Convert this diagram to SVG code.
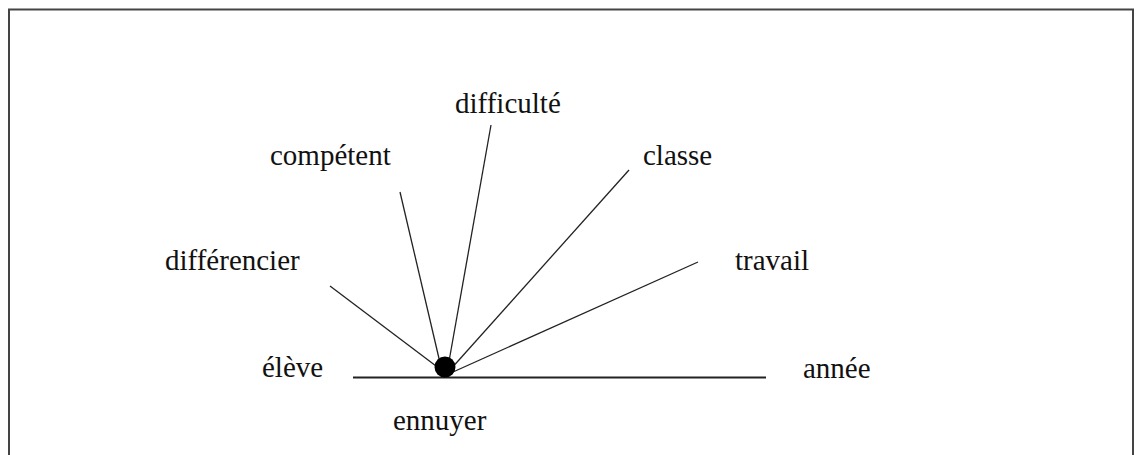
<svg xmlns="http://www.w3.org/2000/svg" width="1136" height="455" viewBox="0 0 1136 455">
<style>
.t{font-family:"Liberation Serif","Times New Roman",serif;font-size:29px;fill:#111}
.c{stroke:#222;stroke-width:1.3;fill:none}
</style>
<rect x="0" y="0" width="1136" height="455" fill="#fff"/>
<rect x="9" y="9.5" width="1124" height="460" fill="none" stroke="#444" stroke-width="2"/>
<g id="connectors">
<line class="c" x1="353" y1="377.5" x2="766" y2="377.5" style="stroke-width:1.8"/>
<line class="c" x1="330" y1="286" x2="440" y2="369"/>
<line class="c" x1="400" y1="192" x2="441" y2="367"/>
<line class="c" x1="491" y1="125" x2="448" y2="367"/>
<line class="c" x1="629" y1="170" x2="450" y2="370"/>
<line class="c" x1="698" y1="262" x2="453" y2="372"/>
</g>
<g id="ennuyer-dot"><circle cx="445" cy="367" r="10.5" fill="#000"/></g>
<g id="n-difficulte"><text class="t" x="455" y="113">difficulté</text></g>
<g id="n-competent"><text class="t" x="270" y="165">compétent</text></g>
<g id="n-classe"><text class="t" x="643" y="165">classe</text></g>
<g id="n-differencier"><text class="t" x="165" y="270">différencier</text></g>
<g id="n-travail"><text class="t" x="735" y="270">travail</text></g>
<g id="n-eleve"><text class="t" x="262" y="377">élève</text></g>
<g id="n-annee"><text class="t" x="803" y="378">année</text></g>
<g id="n-ennuyer"><text class="t" x="393" y="430">ennuyer</text></g>
</svg>
